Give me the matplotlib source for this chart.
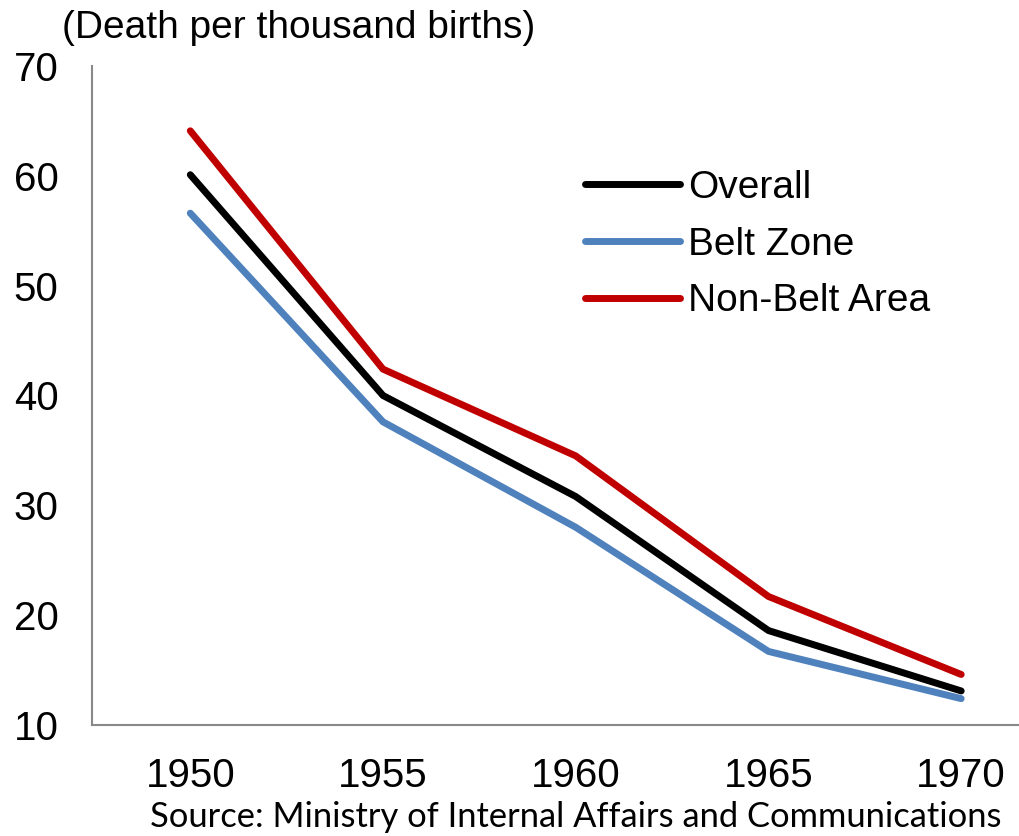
import matplotlib.pyplot as plt
import numpy as np

years = ["1950", "1955", "1960", "1965", "1970"]
overall = [60.1, 40.0, 30.8, 18.6, 13.1]
belt_zone = [56.6, 37.6, 28.0, 16.7, 12.4]
non_belt = [64.1, 42.4, 34.5, 21.7, 14.6]

plt.rcParams['font.family'] = ['Liberation Sans', 'DejaVu Sans']

fig = plt.figure(figsize=(10.19, 8.36), dpi=100)
ax = fig.add_axes([92 / 1019, 111 / 836, 1 - 92 / 1019, 659 / 836])

x = np.arange(len(years))
ax.plot(x, overall, color='black', lw=5, solid_capstyle='round', label='Overall')
ax.plot(x, belt_zone, color='#4F81BD', lw=5, solid_capstyle='round', label='Belt Zone')
ax.plot(x, non_belt, color='#C00000', lw=5, solid_capstyle='round', label='Non-Belt Area')

ax.set_xlim(-0.51, 4.3)
ax.set_ylim(10, 70)
ax.set_yticks(np.arange(10, 71, 10))
ax.set_xticks(x, years)
ax.tick_params(axis='both', length=0, labelsize=29)
ax.tick_params(axis='y', pad=24)
ax.tick_params(axis='x', pad=23)

for s in ['top', 'right']:
    ax.spines[s].set_visible(False)
for s in ['left', 'bottom']:
    ax.spines[s].set_color('#898989')
    ax.spines[s].set_linewidth(1.5)

leg = ax.legend(loc='upper left', bbox_to_anchor=(585 / 1019, 1 - 170 / 836),
                bbox_transform=fig.transFigure, frameon=False, fontsize=28,
                handlelength=2.45, handletextpad=0.2, labelspacing=0.53,
                borderpad=0, borderaxespad=0)

fig.text(62 / 1019, 1 - 28 / 836, '(Death per thousand births)', fontsize=28,
         ha='left', va='center')
fig.text(576 / 1019, 1 - 817 / 836, 'Source: Ministry of Internal Affairs and Communications',
         fontsize=24.8, family=['Lato', 'DejaVu Sans'], ha='center', va='center')

fig.savefig('out.png', dpi=100)
